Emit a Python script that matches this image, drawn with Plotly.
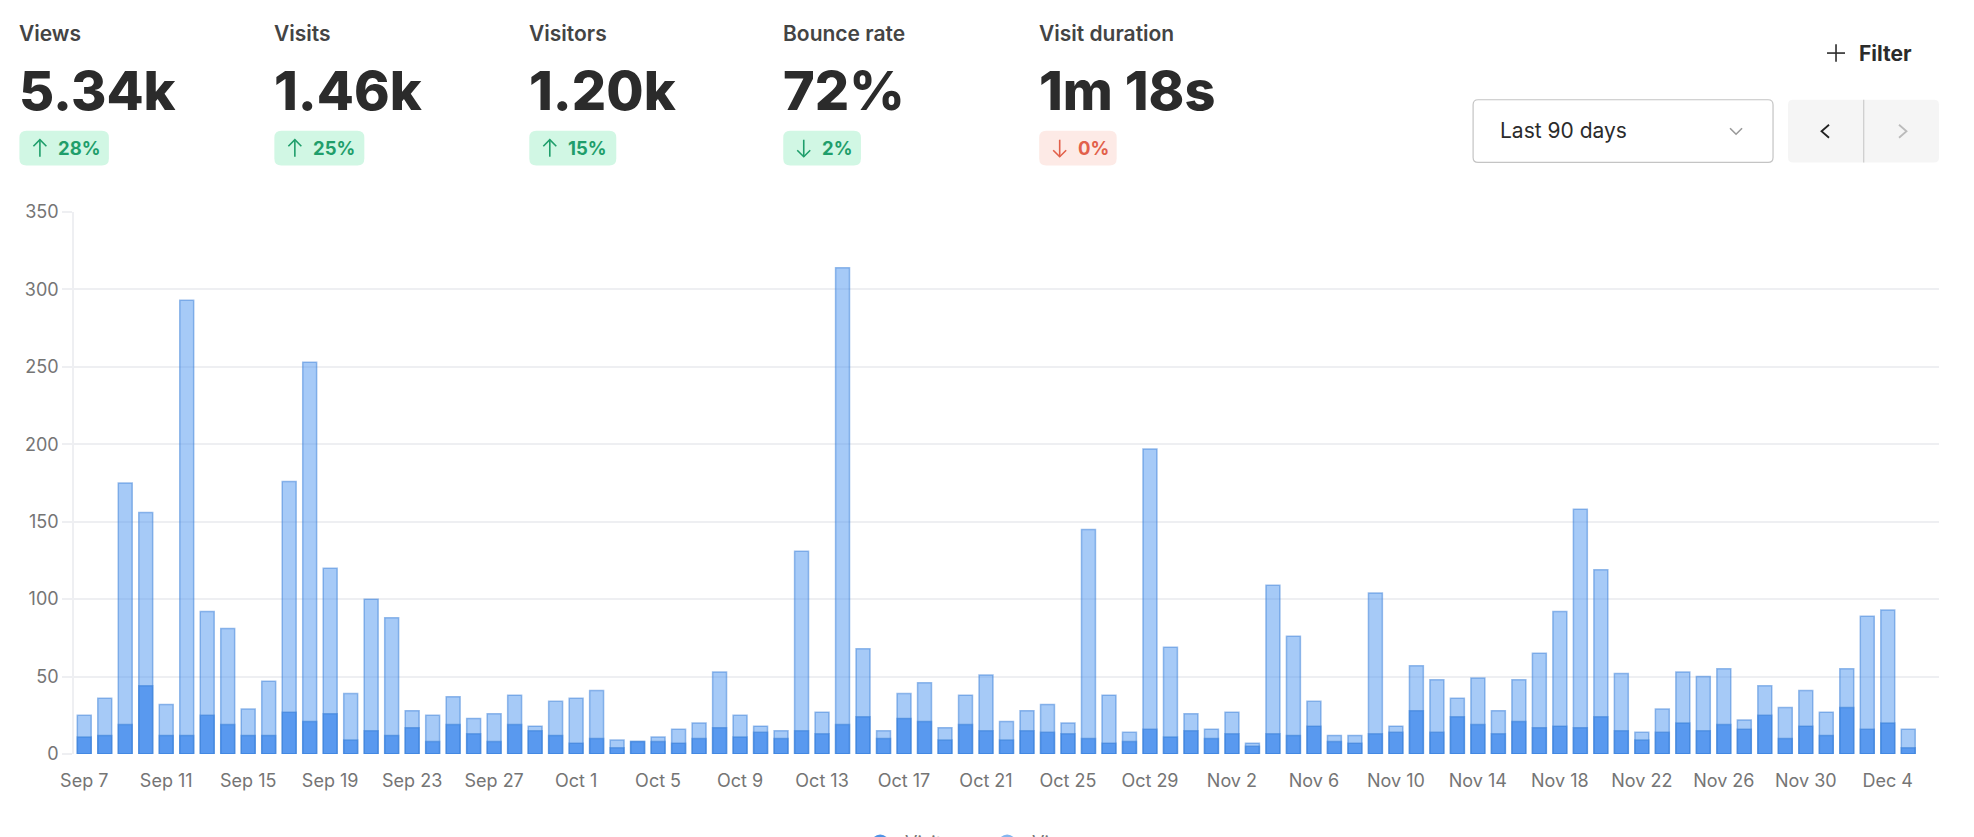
"""Analytics dashboard: KPI header plus daily views / visits overlaid bars."""

import pandas as pd
import plotly.graph_objects as go

# ── Data ────────────────────────────────────────────────────────────────────
DAYS = [d.strftime("%b ") + str(d.day) for d in pd.date_range("2024-09-07", periods=90)]

VIEWS = [
    25, 36, 175, 156, 32, 293, 92, 81, 29, 47, 176, 253, 120, 39, 100, 88, 28, 25, 37, 23,
    26, 38, 18, 34, 36, 41, 9, 8, 11, 16, 20, 53, 25, 18, 15, 131, 27, 314, 68, 15,
    39, 46, 17, 38, 51, 21, 28, 32, 20, 145, 38, 14, 197, 69, 26, 16, 27, 7, 109, 76,
    34, 12, 12, 104, 18, 57, 48, 36, 49, 28, 48, 65, 92, 158, 119, 52, 14, 29, 53, 50,
    55, 22, 44, 30, 41, 27, 55, 89, 93, 16,
]
VISITS = [
    11, 12, 19, 44, 12, 12, 25, 19, 12, 12, 27, 21, 26, 9, 15, 12, 17, 8, 19, 13,
    8, 19, 15, 12, 7, 10, 4, 8, 8, 7, 10, 17, 11, 14, 10, 15, 13, 19, 24, 10,
    23, 21, 9, 19, 15, 9, 15, 14, 13, 10, 7, 8, 16, 11, 15, 10, 13, 5, 13, 12,
    18, 8, 7, 13, 14, 28, 14, 24, 19, 13, 21, 17, 18, 17, 24, 15, 9, 14, 20, 15,
    19, 16, 25, 10, 18, 12, 30, 16, 20, 4,
]
Y_TICKS = [0, 50, 100, 150, 200, 250, 300, 350]

KPI_LABELS = ["Views", "Visits", "Visitors", "Bounce rate", "Visit duration"]
KPI_VALUES = ["5.34k", "1.46k", "1.20k", "72%", "1m 18s"]
KPI_DELTAS = ["28%", "25%", "15%", "2%", "0%"]
KPI_ARROWS = ["up", "up", "up", "down", "down"]
KPI_GOOD = [True, True, True, True, False]
KPI_X = [20, 275, 530, 784, 1040]
BADGE_RIGHT = [108.5, 364, 616, 860.7, 1116.5]

# ── Style constants ─────────────────────────────────────────────────────────
W, H = 1974, 837
M_L, M_R, M_T, M_B = 73.6, 35, 212.3, 82.5
FONT = "Inter"
COLOR_TICK = "#757575"
COLOR_GRID = "#eeeff2"
COLOR_INK = "#2b2b2b"
COLOR_LABEL = "#444444"
GREEN_BG, GREEN_FG = "#d1f7e4", "#1f9e6b"
RED_BG, RED_FG = "#fdeae6", "#e2604a"


# paper coordinates are relative to the plot area, so page pixels get converted
def px(x):
    return (x - M_L) / (W - M_L - M_R)


def py(y):
    return 1 - (y - M_T) / (H - M_T - M_B)


def rounded(x0, y0, x1, y1, r):
    return (f"M{px(x0 + r)},{py(y0)} L{px(x1 - r)},{py(y0)} Q{px(x1)},{py(y0)} {px(x1)},{py(y0 + r)} "
            f"L{px(x1)},{py(y1 - r)} Q{px(x1)},{py(y1)} {px(x1 - r)},{py(y1)} "
            f"L{px(x0 + r)},{py(y1)} Q{px(x0)},{py(y1)} {px(x0)},{py(y1 - r)} "
            f"L{px(x0)},{py(y0 + r)} Q{px(x0)},{py(y0)} {px(x0 + r)},{py(y0)} Z")


def polyline(points):
    return "M" + " L".join(f"{px(x)},{py(y)}" for x, y in points)


def box(path, fill, line=None, width=0):
    return dict(type="path", xref="paper", yref="paper", path=path, fillcolor=fill,
                line=dict(color=line or fill, width=width), layer="below")


def stroke(points, color, width=1.6):
    return dict(type="path", xref="paper", yref="paper", path=polyline(points),
                line=dict(color=color, width=width), layer="above")


def label(x, y, text, size, color, weight=400):
    return dict(xref="paper", yref="paper", x=px(x), y=py(y), text=text, showarrow=False,
                xanchor="left", yanchor="middle", borderpad=0, borderwidth=0,
                font=dict(family=FONT, size=size, color=color, weight=weight))


# ── Bars ────────────────────────────────────────────────────────────────────
fig = go.Figure([
    go.Bar(x=DAYS, y=VIEWS, name="Views", width=0.68,
           marker=dict(color="rgba(78,150,240,0.5)",
                       line=dict(color="rgba(55,125,215,0.5)", width=1.5))),
    go.Bar(x=DAYS, y=VISITS, name="Visits", width=0.68,
           marker=dict(color="rgba(60,135,235,0.72)",
                       line=dict(color="rgba(55,125,215,0.55)", width=1.5))),
])

# ── KPI header ──────────────────────────────────────────────────────────────
shapes, annotations = [], []
for i, x in enumerate(KPI_X):
    bg, fg = (GREEN_BG, GREEN_FG) if KPI_GOOD[i] else (RED_BG, RED_FG)
    annotations.append(label(x - 1, 33.5, KPI_LABELS[i], 21, COLOR_LABEL, 600))
    annotations.append(label(x - 1, 91, KPI_VALUES[i], 54, COLOR_INK, 800))
    shapes.append(box(rounded(x - 1, 131, BADGE_RIGHT[i], 165.7, 7), bg))
    ax = x + 19.5
    if KPI_ARROWS[i] == "up":
        shapes.append(stroke([(ax, 157), (ax, 140)], fg))
        shapes.append(stroke([(ax - 6.5, 146.5), (ax, 140), (ax + 6.5, 146.5)], fg))
    else:
        shapes.append(stroke([(ax, 140), (ax, 157)], fg))
        shapes.append(stroke([(ax - 6.5, 150.5), (ax, 157), (ax + 6.5, 150.5)], fg))
    annotations.append(label(x + 37.5, 148, KPI_DELTAS[i], 18.5, fg, 700))

# ── Controls ────────────────────────────────────────────────────────────────
shapes += [
    stroke([(1827, 53.3), (1845, 53.3)], "#2b2b2b"),
    stroke([(1836, 44.5), (1836, 62)], "#2b2b2b"),
    box(rounded(1473, 100, 1773, 162.7, 5), "#ffffff", "#c4c4c4", 1.2),
    box(rounded(1788, 100, 1939, 162.7, 5), "#f5f5f5"),
    stroke([(1863.7, 100), (1863.7, 162.7)], "#cccccc", 1.2),
    stroke([(1730, 128.5), (1736, 134.5), (1742, 128.5)], "#999999"),
    stroke([(1829, 125), (1821.5, 131.5), (1829, 138)], "#222222", 1.8),
    stroke([(1899, 125), (1906.5, 131.5), (1899, 138)], "#bbbbbb", 1.8),
]
annotations.append(label(1859, 53.5, "Filter", 21, COLOR_INK, 700))
annotations.append(label(1500.2, 130.5, "Last 90 days", 21, COLOR_INK))

# ── Legend, cut by the bottom edge of the page as in the screenshot ─────────
for cx, name, color in [(880, "Visits", "#4f93e6"), (1007, "Views", "#84b6f0")]:
    shapes.append(dict(type="circle", xref="paper", yref="paper",
                       x0=px(cx - 9), x1=px(cx + 9), y0=py(835), y1=py(853),
                       fillcolor=color, line=dict(width=0)))
    annotations.append(label(cx + 25, 843, name, 18, COLOR_TICK))

fig.update_layout(
    width=W, height=H,
    margin=dict(l=M_L, r=M_R, t=M_T, b=M_B, pad=0, autoexpand=False),
    paper_bgcolor="#ffffff", plot_bgcolor="#ffffff",
    barmode="overlay", showlegend=False, bargap=0.32,
    shapes=shapes, annotations=annotations,
    font=dict(family=FONT, color=COLOR_TICK, size=18),
    xaxis=dict(
        type="category", categoryorder="array", categoryarray=DAYS,
        range=[-0.5, 90.5], tickmode="array", tickvals=DAYS[::4], ticktext=DAYS[::4],
        showgrid=False, zeroline=False, showline=False, ticks="", tickangle=0,
        tickfont=dict(family=FONT, size=18, color=COLOR_TICK), ticklabelstandoff=14,
    ),
    yaxis=dict(
        range=[0, 350], tickmode="array", tickvals=Y_TICKS,
        gridcolor=COLOR_GRID, gridwidth=1.5, zeroline=False,
        showline=True, linecolor=COLOR_GRID, linewidth=1.5,
        ticks="outside", ticklen=10, tickcolor=COLOR_GRID, tickwidth=1.5,
        tickfont=dict(family=FONT, size=18, color=COLOR_TICK),
    ),
)

fig.write_html("out.html", config={"displayModeBar": False},
               post_script="document.body.style.margin='0';document.body.style.overflow='hidden';")
